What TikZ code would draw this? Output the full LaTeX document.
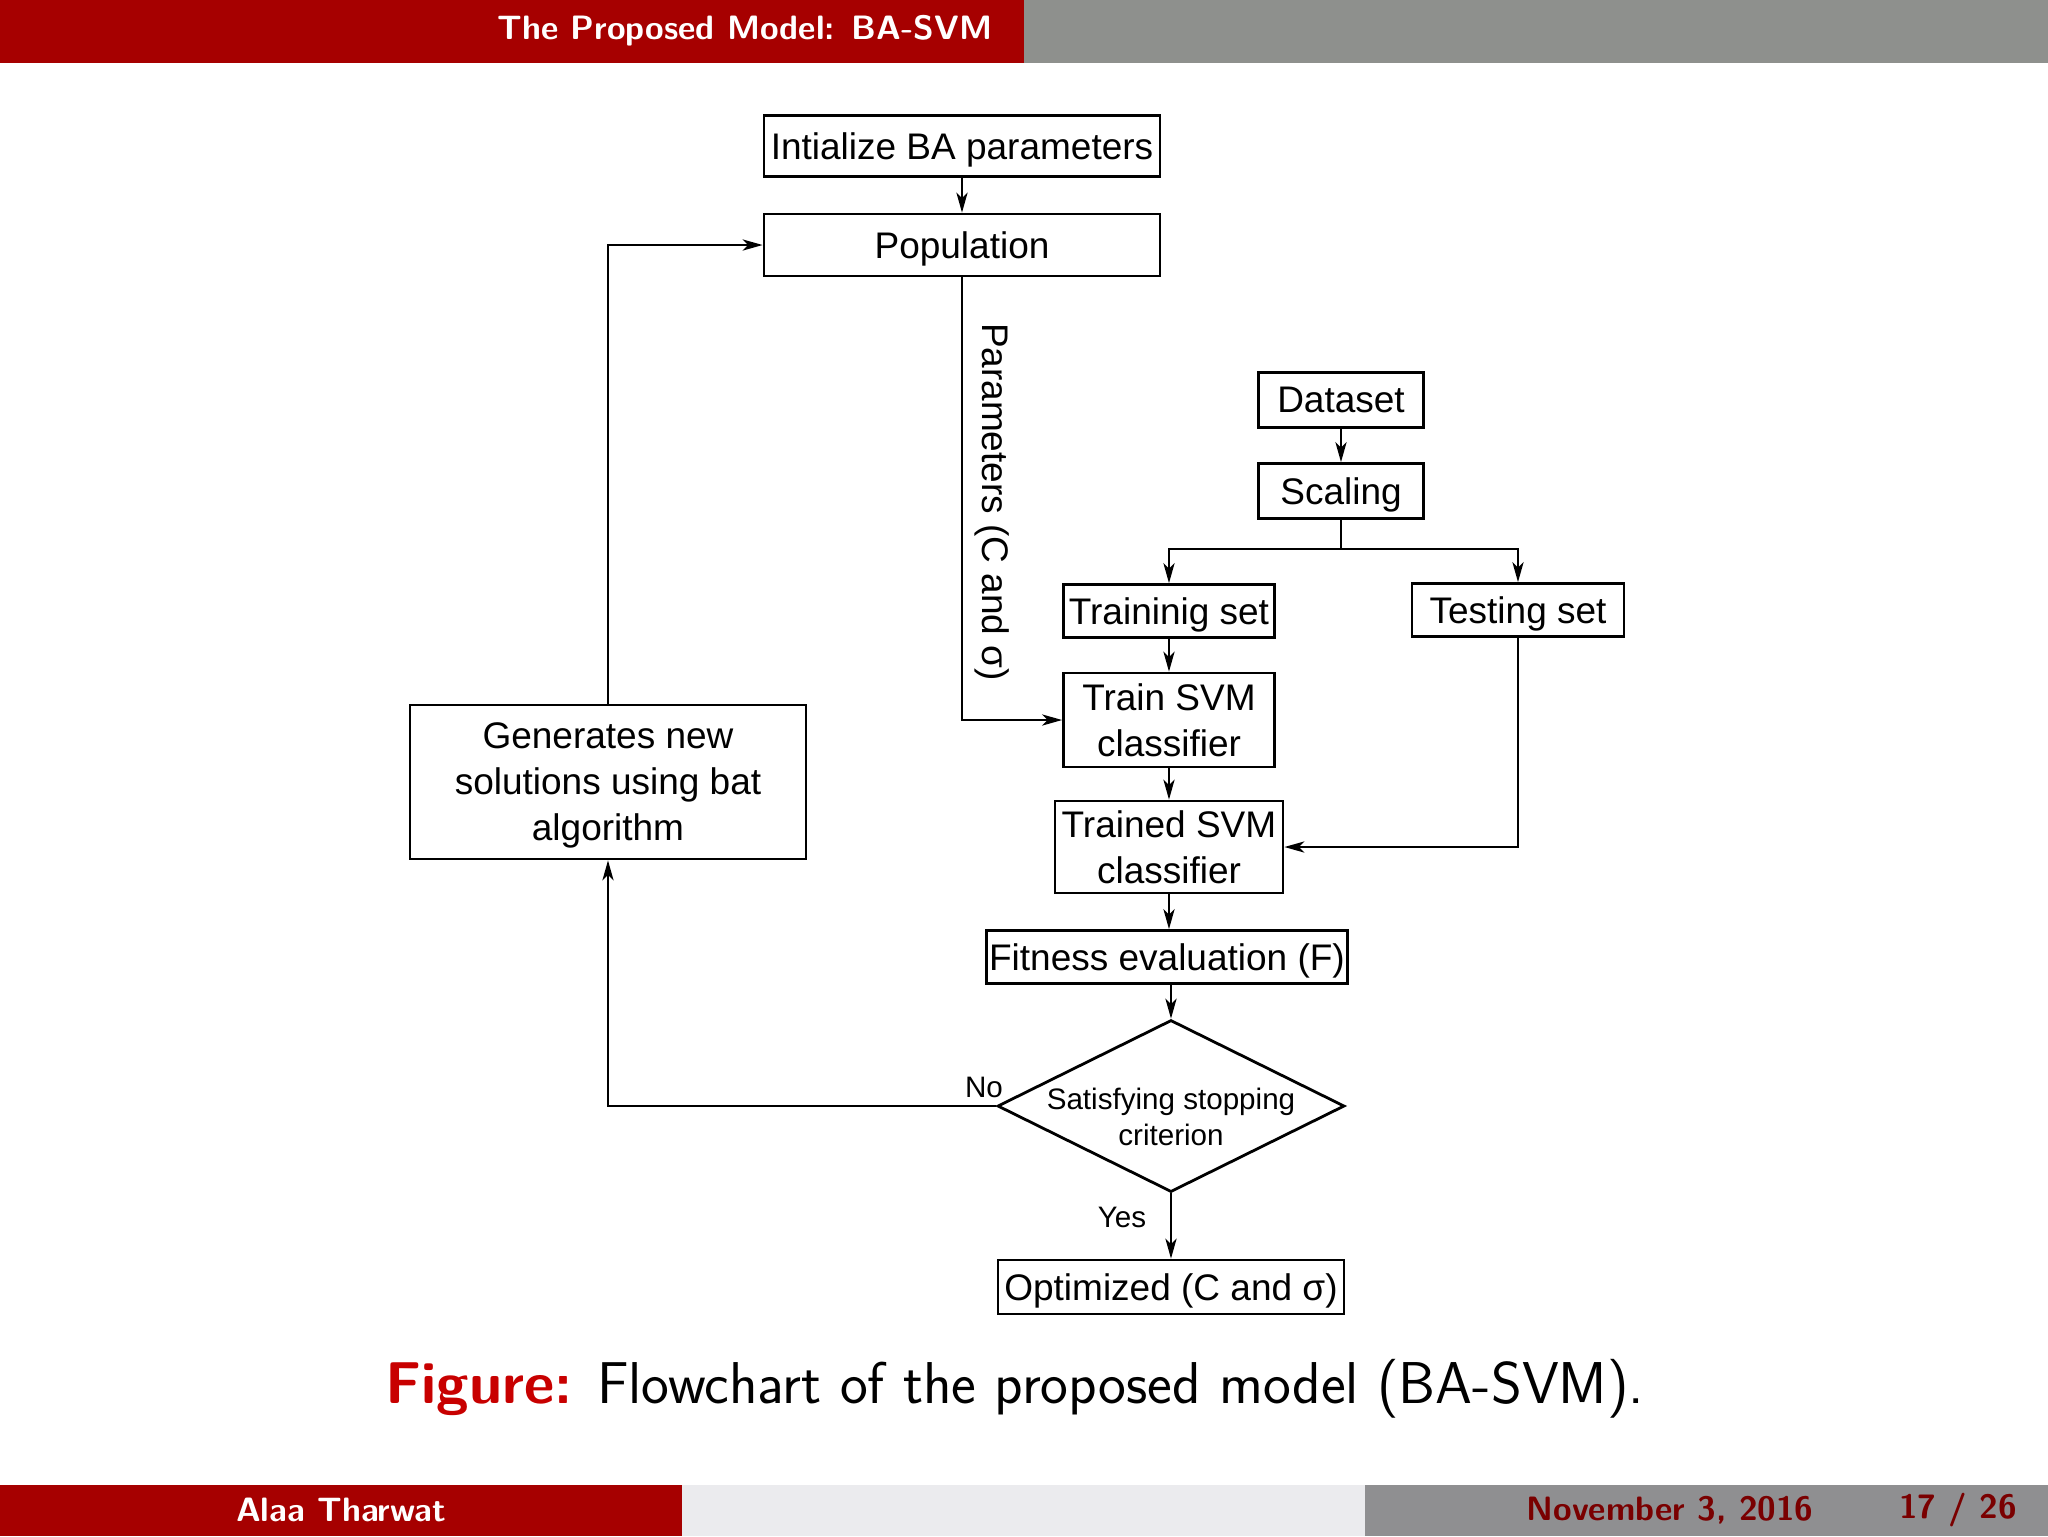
\documentclass[tikz,border=0pt]{standalone}
\usepackage{fontspec}
\setmainfont{Liberation Sans}
\setsansfont{Latin Modern Sans}
\usetikzlibrary{shapes.geometric,arrows.meta}
\definecolor{hdred}{RGB}{166,0,0}
\definecolor{hdgray}{RGB}{142,144,141}
\definecolor{ftlight}{RGB}{235,235,238}
\definecolor{ftgray}{RGB}{143,143,145}
\definecolor{datered}{RGB}{122,0,0}
\definecolor{capred}{RGB}{200,0,0}
\begin{document}
\begin{tikzpicture}[x=0.25pt,y=-0.25pt,
  box/.style={draw, line width=0.7pt, inner sep=0pt, align=center, text depth=0pt,
    font=\fontsize{9.25pt}{11.5pt}\selectfont},
  small/.style={inner sep=0pt, align=center, font=\fontsize{7.4pt}{9.1pt}\selectfont},
  conn/.style={line width=0.5pt},
  arr/.style={line width=0.5pt, -{Stealth[length=5pt,width=2.8pt,inset=1.4pt]}},
  barfont/.style={inner sep=0pt, font=\sffamily\bfseries\fontsize{8.45pt}{10pt}\selectfont}]
\useasboundingbox (0,0) rectangle (2048,1536);
\fill[white] (0,0) rectangle (2048,1536);
% header
\fill[hdred] (0,0) rectangle (1024,63);
\fill[hdgray] (1024,0) rectangle (2048,63);
\node[barfont, text=white, anchor=east] (title) at (993,31) {The Proposed Model: BA-SVM};
% footer
\fill[hdred] (0,1485) rectangle (682,1536);
\fill[ftlight] (682,1485) rectangle (1365,1536);
\fill[ftgray] (1365,1485) rectangle (2048,1536);
\node[barfont, text=white] (author) at (341,1510) {Alaa Tharwat};
\node[barfont, text=datered] (date) at (1670,1510) {November 3, 2016};
\node[barfont, text=datered] (page) at (1958,1510) {17 / 26};
% caption
\node[font=\sffamily\fontsize{14.75pt}{17.5pt}\selectfont] (cap) at (1015,1389)
  {\textcolor{capred}{\bfseries Figure:} Flowchart of the proposed model (BA-SVM).};
% nodes
\node[box, minimum width=99pt, minimum height=15.25pt] (init) at (962,146) {Intialize BA parameters};
\node[box, minimum width=99pt, minimum height=15.5pt] (pop) at (962,245) {Population};
\node[box, minimum width=41.25pt, minimum height=13.75pt] (data) at (1341,400) {Dataset};
\node[box, minimum width=41.25pt, minimum height=13.75pt] (scal) at (1341,491) {Scaling};
\node[box, minimum width=52.75pt, minimum height=13.25pt] (train) at (1169,611) {Traininig set};
\node[box, minimum width=53pt, minimum height=13.25pt] (test) at (1518,610) {Testing set};
\node[box, minimum width=52.75pt, minimum height=23.5pt] (tsvm) at (1169,720) {Train SVM\\classifier};
\node[box, minimum width=57pt, minimum height=23pt] (tdsvm) at (1169,847) {Trained SVM\\classifier};
\node[box, minimum width=90.25pt, minimum height=13.25pt] (fit) at (1167,957) {Fitness evaluation (F)};
\node[draw, line width=0.7pt, diamond, inner sep=0pt, minimum width=86.75pt, minimum height=43pt] (dec) at (1171,1106) {};
\node[small] (dectxt) at (1171,1117) {Satisfying stopping\\criterion};
\node[box, minimum width=86.5pt, minimum height=13.5pt] (opt) at (1171,1287) {Optimized (C and σ)};
\node[box, minimum width=99pt, minimum height=38.5pt] (gen) at (608,782) {Generates new\\solutions using bat\\algorithm};
% connectors
\draw[arr] (init) -- (pop);
\draw[arr] (data) -- (scal);
\coordinate (br) at (1341,549);
\draw[conn] (scal.south) -- (br);
\draw[arr] (br) -| (train.north);
\draw[arr] (br) -| (test.north);
\draw[arr] (train) -- (tsvm);
\draw[arr] (tsvm) -- (tdsvm);
\draw[arr] (tdsvm.south) -- (tdsvm.south |- fit.north);
\draw[arr] (fit.south -| dec.north) -- (dec.north);
\draw[arr] (pop.south) |- (tsvm.west);
\node[rotate=-90, font=\fontsize{9.25pt}{11.5pt}\selectfont, inner sep=0pt] (plab) at (992,502) {Parameters (C and σ)};
\draw[arr] (test.south) |- (tdsvm.east);
\draw[arr] (dec.west) -| (gen.south);
\draw[arr] (gen.north) |- (pop.west);
\draw[arr] (dec.south) -- (opt.north);
\node[small] (no) at (984,1087) {No};
\node[small] (yes) at (1122,1217) {Yes};
\end{tikzpicture}
\end{document}
